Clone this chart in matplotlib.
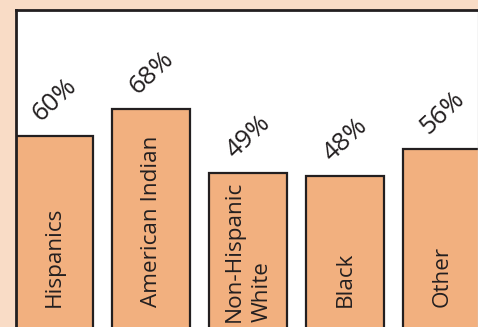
import matplotlib
matplotlib.use("Agg")
import matplotlib.pyplot as plt

categories = ["Hispanics", "American Indian", "Non-Hispanic\nWhite", "Black", "Other"]
values = [60, 68, 49, 48, 56]
pct_labels = ["60%", "68%", "49%", "48%", "56%"]

W, H = 478, 327
fig = plt.figure(figsize=(W / 100, H / 100), dpi=100)
fig.patch.set_facecolor("#f9dcc6")

left_px, top_px, bottom_px = 15.5, 9.5, -10
ax = fig.add_axes([left_px / W, bottom_px / H, (W - left_px) / W, (H - top_px - bottom_px) / H])
ax.set_facecolor("white")

dark = "#231f20"
x = list(range(len(categories)))
ax.bar(x, values, width=0.8, color="#f2b07f", edgecolor=dark, linewidth=1.6, zorder=2)

ax.set_xlim(-0.4, 4.37)
ax.set_ylim(0, 97.8)
ax.set_xticks([])
ax.set_yticks([])
ax.spines["bottom"].set_visible(False)
ax.spines["top"].set_color(dark)
ax.spines["top"].set_linewidth(2)
ax.spines["left"].set_color(dark)
ax.spines["left"].set_linewidth(2)
ax.spines["right"].set_color("#cccccc")
ax.spines["right"].set_linewidth(1)

font = "Open Sans"
for i, (cat, v, p) in enumerate(zip(categories, values, pct_labels)):
    ybase = 4.4 if "\n" in cat else 9.0
    ax.text(i, ybase, cat, rotation=90, ha="center", va="bottom", multialignment="left",
            fontsize=16.2, color=dark, family=font, linespacing=1.4, zorder=3)
    ax.text(i, v + 10.8, p, rotation=43, ha="center", va="center",
            fontsize=18.5, color=dark, family=font, zorder=3)

fig.savefig("out.png", dpi=100, facecolor=fig.get_facecolor())
